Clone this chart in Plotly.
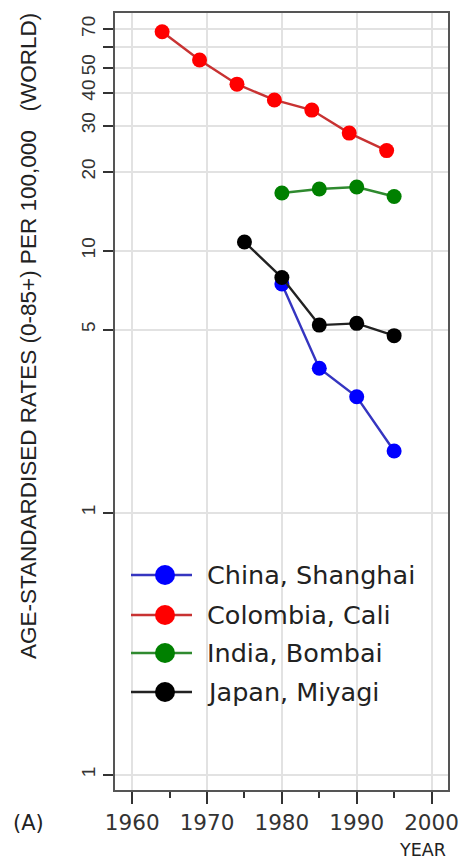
import plotly.graph_objects as go

# ---- data ----
series_names = ["China, Shanghai", "Colombia, Cali", "India, Bombai", "Japan, Miyagi"]
series_colors = ["#0000ff", "#ff0000", "#008000", "#000000"]
line_colors = ["#3535c0", "#c83232", "#2f8a2f", "#222222"]

china_years = [1980, 1985, 1990, 1995]
china_rates = [7.46, 3.56, 2.77, 1.72]

colombia_years = [1964, 1969, 1974, 1979, 1984, 1989, 1994]
colombia_rates = [68.5, 53.4, 43.2, 37.6, 34.4, 28.1, 24.1]

india_years = [1980, 1985, 1990, 1995]
india_rates = [16.6, 17.2, 17.5, 16.1]

japan_years = [1975, 1980, 1985, 1990, 1995]
japan_rates = [10.8, 7.9, 5.2, 5.28, 4.74]

y_tickvals = [0.1, 1, 5, 10, 20, 30, 40, 50, 60, 70]
y_ticktext = ["1", "1", "5", "10", "20", "30", "40", "50", "", "70"]
x_tickvals = [1960, 1970, 1980, 1990, 2000]
x_ticktext = ["1960", "1970", "1980", "1990", "2000"]

y_title = "AGE-STANDARDISED RATES (0-85+) PER 100,000\u00a0\u00a0\u00a0(WORLD)"
x_title = "YEAR"
panel_label = "(A)"

all_years = [china_years, colombia_years, india_years, japan_years]
all_rates = [china_rates, colombia_rates, india_rates, japan_rates]

fig = go.Figure()
# draw order: red, green, blue, black (black on top at 1980)
for i in [1, 2, 0, 3]:
    fig.add_trace(go.Scatter(
        x=all_years[i], y=all_rates[i], mode="lines+markers",
        name=series_names[i],
        line=dict(color=line_colors[i], width=2.4),
        marker=dict(color=series_colors[i], size=15, line=dict(width=0)),
        showlegend=False,
    ))

W, H = 459, 862
L, R, T, B = 115, 11, 13, 72
pw = W - L - R
ph = H - T - B

def px(xpix):
    return (xpix - L) / pw

def py(ypix):
    return (H - B - ypix) / ph

shapes = []
annotations = []

# legend background covering gridlines
shapes.append(dict(type="rect", xref="paper", yref="paper",
                   x0=px(117), x1=px(446), y0=py(722), y1=py(550),
                   fillcolor="white", line=dict(width=0), layer="between"))

legend_rows = [575, 615, 653, 692]
for i, yr in enumerate(legend_rows):
    yy = py(yr)
    shapes.append(dict(type="line", xref="paper", yref="paper",
                       x0=px(131), x1=px(192), y0=yy, y1=yy,
                       line=dict(color=line_colors[i], width=2.5)))
    shapes.append(dict(type="circle", xref="paper", yref="paper",
                       xsizemode="pixel", ysizemode="pixel",
                       xanchor=px(165), yanchor=yy,
                       x0=-10, x1=10, y0=-10, y1=10,
                       fillcolor=series_colors[i], line=dict(width=0)))
    annotations.append(dict(xref="paper", yref="paper", x=px(205), y=yy,
                            xanchor="left", yanchor="middle", showarrow=False,
                            text=series_names[i],
                            font=dict(family="DejaVu Sans", size=25.5, color="#222")))

annotations.append(dict(xref="paper", yref="paper", x=px(28), y=py(336),
                        xanchor="center", yanchor="middle", showarrow=False,
                        textangle=-90, text=y_title,
                        font=dict(family="Liberation Sans", size=22.5, color="#222")))
annotations.append(dict(xref="paper", yref="paper", x=px(28), y=py(823),
                        xanchor="center", yanchor="middle", showarrow=False,
                        text=panel_label,
                        font=dict(family="DejaVu Sans", size=21, color="#222")))
annotations.append(dict(xref="paper", yref="paper", x=px(422), y=py(850),
                        xanchor="center", yanchor="middle", showarrow=False,
                        text=x_title,
                        font=dict(family="DejaVu Sans", size=17.5, color="#222")))

fig.update_layout(
    width=W, height=H,
    margin=dict(l=L, r=R, t=T, b=B, pad=0, autoexpand=False),
    paper_bgcolor="white", plot_bgcolor="white",
    shapes=shapes, annotations=annotations,
    showlegend=False,
)
fig.update_xaxes(
    range=[1957.7, 2002.2], automargin=False,
    tickvals=x_tickvals, ticktext=x_ticktext,
    ticks="outside", ticklen=12, tickwidth=2, tickcolor="#333",
    minor=dict(dtick=5, tick0=1960, ticks="outside", ticklen=6, tickwidth=2,
               tickcolor="#333", showgrid=False),
    showgrid=True, gridcolor="#e2e2e2", gridwidth=1.5,
    showline=True, linecolor="#555", linewidth=2, mirror=True,
    zeroline=False,
    tickfont=dict(family="DejaVu Sans", size=21.5, color="#333"),
)
fig.update_yaxes(
    type="log", range=[-1.058, 1.907], automargin=False,
    tickvals=y_tickvals, ticktext=y_ticktext, tickangle=-90,
    ticks="outside", ticklen=10, tickwidth=2, tickcolor="#333",
    showgrid=True, gridcolor="#e2e2e2", gridwidth=1.5,
    showline=True, linecolor="#555", linewidth=2, mirror=True,
    zeroline=False,
    tickfont=dict(family="Liberation Sans", size=19, color="#333"),
)

fig.write_html("out.html")
